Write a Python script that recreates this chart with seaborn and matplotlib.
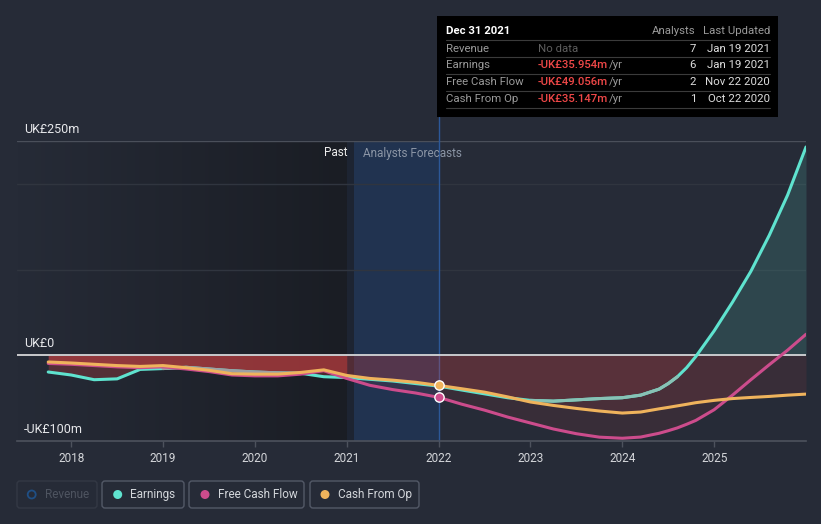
import numpy as np
import pandas as pd
import matplotlib
matplotlib.use("Agg")
import matplotlib.pyplot as plt
from matplotlib.patches import Rectangle, FancyBboxPatch, Circle
from matplotlib.lines import Line2D
from matplotlib.transforms import IdentityTransform
from matplotlib.colors import LinearSegmentedColormap
import seaborn as sns

# ---------------- data (UK£ m) ----------------
years = [2017.75, 2018.0, 2018.25, 2018.5, 2018.75, 2019.0, 2019.25, 2019.5, 2019.75,
         2020.0, 2020.25, 2020.5, 2020.75, 2021.0, 2021.25, 2021.5, 2021.75, 2022.0,
         2022.25, 2022.5, 2022.75, 2023.0, 2023.25, 2023.5, 2023.75, 2024.0,
         2024.2, 2024.4, 2024.5, 2024.6, 2024.7, 2024.8, 2025.0, 2025.2, 2025.4, 2025.6,
         2025.8, 2026.0]
earnings = [-19.5, -23, -28.5, -27.5, -16.5, -15.5, -14, -16, -18,
            -19.5, -20.5, -21, -25, -26, -28, -30, -33, -35.954,
            -40.5, -45, -49.5, -52.6, -53.5, -52, -50.5, -49.5,
            -46.5, -39.5, -33, -25, -14.5, -1.5, 28.5, 62, 98, 140, 187, 243]
free_cash_flow = [-9.5, -10.5, -12, -13.5, -14.5, -13.5, -16, -19, -23,
                  -24, -24, -22, -18, -27, -35, -40, -44, -49.056,
                  -57, -64, -72, -79, -86, -91.5, -95.5, -96.8,
                  -95.4, -91, -88, -84.7, -80.5, -76, -63.5, -46.5, -28.5, -11, 6, 24.5]
cash_from_op = [-7.8, -9, -10.5, -12, -13, -12, -14.5, -17.5, -21.5,
                -22, -22, -20, -17, -23.5, -27, -29, -31.5, -35.147,
                -39, -43, -48.5, -54.5, -58.5, -62, -65, -67.4,
                -66.2, -62.5, -60.8, -59, -57.2, -55.3, -52.6, -50.5, -49.2, -48, -46.5, -45.3]

tick_years = [2018, 2019, 2020, 2021, 2022, 2023, 2024, 2025]
tick_labels = ["2018", "2019", "2020", "2021", "2022", "2023", "2024", "2025"]
y_label_values = [250, 0, -100]
y_labels = ["UK£250m", "UK£0", "-UK£100m"]
past_end = 2021.0
forecast_start = 2021.08
tooltip_year = 2022.0

series_names = ["Earnings", "Free Cash Flow", "Cash From Op"]
series_colors = {"Earnings": "#5fe3cf", "Free Cash Flow": "#cc4c8c", "Cash From Op": "#efb35c"}

tooltip_header = ["Dec 31 2021", "Analysts", "Last Updated"]
tooltip_rows = [
    ("Revenue", "No data", "", "7", "Jan 19 2021"),
    ("Earnings", "-UK£35.954m", "/yr", "6", "Jan 19 2021"),
    ("Free Cash Flow", "-UK£49.056m", "/yr", "2", "Nov 22 2020"),
    ("Cash From Op", "-UK£35.147m", "/yr", "1", "Oct 22 2020"),
]
legend_items = ["Revenue", "Earnings", "Free Cash Flow", "Cash From Op"]

# ---------------- style ----------------
W, H = 821, 524
BG = "#262b37"
sns.set_theme(style="dark")
plt.rcParams["font.family"] = ["Roboto", "DejaVu Sans"]

fig = plt.figure(figsize=(W / 100, H / 100), dpi=100, facecolor=BG)
ax = fig.add_axes([17 / W, (H - 441) / H, 789 / W, 300 / H])
ax.set_facecolor(BG)

x0, x1 = 2017.41, 2026.0
# past gradient background
cmap = LinearSegmentedColormap.from_list("past", [BG, "#1a1d24"])
grad = np.linspace(0, 1, 256).reshape(1, -1)
ax.imshow(grad, extent=[x0, past_end, -100, 250], aspect="auto", cmap=cmap, zorder=0)
ax.axvspan(past_end, forecast_start, color="#1d2432", zorder=0, lw=0)
ax.axvspan(forecast_start, tooltip_year, color="#213350", zorder=0, lw=0)

ax.set_xlim(x0, x1)
ax.set_ylim(-100, 250)

# grid lines
ax.axhline(250, color="#4a4f5a", lw=1, zorder=1)
for v in (200, 100):
    ax.axhline(v, color="#30353f", lw=1, zorder=1)
ax.axhline(0, color="#c9cacd", lw=1.4, zorder=2.5)

df = pd.DataFrame({
    "year": years * 3,
    "value": earnings + free_cash_flow + cash_from_op,
    "series": sum([[n] * len(years) for n in series_names], []),
})

yr = np.array(years)
# fills
for name, vals in zip(series_names, [earnings, free_cash_flow, cash_from_op]):
    v = np.array(vals)
    past = yr <= past_end + 1e-9
    fut = yr >= past_end - 1e-9
    ax.fill_between(yr[past], v[past], 0, where=v[past] < 0, interpolate=True,
                    color="#e04646", alpha=0.26, lw=0, zorder=1.5)
    ax.fill_between(yr[fut], v[fut], 0, where=v[fut] < 0, interpolate=True,
                    color="#e04646", alpha=0.10, lw=0, zorder=1.5)
    if name == "Earnings":
        ax.fill_between(yr, v, 0, where=v > 0, interpolate=True,
                        color=series_colors[name], alpha=0.15, lw=0, zorder=1.5)

# lines
z = 3.0
for name in series_names:
    sns.lineplot(data=df[df.series == name], x="year", y="value", color=series_colors[name],
                 lw=2.2, ax=ax, legend=False, estimator=None, sort=False, zorder=z)
    if name == "Earnings":
        e = df[df.series == name]
        seg = e[(e.year >= 2019.0) & (e.year <= 2020.5)]
        ax.plot(seg.year, seg.value, color="#9c9fa3", lw=2.2, zorder=z + 0.05,
                solid_capstyle="round")
        seg2 = e[(e.year >= 2023.0) & (e.year <= 2024.6)]
        ax.plot(seg2.year, seg2.value, color="#88c2b5", lw=2.2, zorder=z + 0.05,
                solid_capstyle="round")
    z += 0.2

# markers at tooltip year
idx = years.index(tooltip_year)
ax.scatter([tooltip_year], [free_cash_flow[idx]], s=45, color=series_colors["Free Cash Flow"],
           edgecolor="white", lw=1, zorder=6)
ax.scatter([tooltip_year], [cash_from_op[idx]], s=45, color=series_colors["Cash From Op"],
           edgecolor="white", lw=1, zorder=6)

# vertical line at tooltip year (extends up to the tooltip)
ax.plot([tooltip_year, tooltip_year], [-100, 278], color="#2c5898", lw=1, zorder=1.2,
        clip_on=False)

# axes styling
for s in ["top", "right", "left"]:
    ax.spines[s].set_visible(False)
ax.spines["bottom"].set_color("#4d525d")
ax.spines["bottom"].set_linewidth(1.2)
ax.set_xticks(tick_years)
ax.set_xticklabels(tick_labels)
ax.set_yticks([])
ax.tick_params(axis="x", colors="#4d525d", length=4, width=1, pad=4, labelsize=8.5,
               labelcolor="#d4d6da", bottom=True)
ax.set_xlabel("")
ax.set_ylabel("")
ax.grid(False)

for val, lab in zip(y_label_values, y_labels):
    ax.annotate(lab, xy=(7 / 789, val), xycoords=("axes fraction", "data"),
                xytext=(0, 6), textcoords="offset points", va="baseline", ha="left",
                fontsize=9, color="#e6e7ea")

# Past / Analysts Forecasts labels
fig.text(347 / W, 1 - 153 / H, "Past", ha="right", va="center", fontsize=8.5, color="#eeeeee")
fig.text(363 / W, 1 - 153 / H, "Analysts Forecasts", ha="left", va="center", fontsize=8.5,
         color="#8b95a5")

# ---------------- tooltip ----------------
def fy(y):
    return 1 - y / H

def fx(x):
    return x / W

fig.add_artist(Rectangle((fx(437), fy(117)), fx(778) - fx(437), fy(16) - fy(117),
                         transform=fig.transFigure, facecolor="black", edgecolor="none",
                         zorder=10))
for ys in (40, 57, 74, 91, 108):
    fig.add_artist(Line2D([fx(446), fx(770)], [fy(ys), fy(ys)], transform=fig.transFigure,
                          color="#3b3b3b", lw=0.8, zorder=11))
hy = 31
fig.text(fx(446), fy(hy), tooltip_header[0], ha="left", va="center", fontsize=8.2,
         color="white", fontweight="bold", zorder=12)
fig.text(fx(695), fy(hy), tooltip_header[1], ha="right", va="center", fontsize=8.2,
         color="#9a9a9a", zorder=12)
fig.text(fx(770), fy(hy), tooltip_header[2], ha="right", va="center", fontsize=8.2,
         color="#9a9a9a", zorder=12)
for (lab, val, unit, n, date), ry in zip(tooltip_rows, (48.5, 65.5, 82, 99)):
    fig.text(fx(446), fy(ry), lab, ha="left", va="center", fontsize=8.2, color="#9a9a9a", zorder=12)
    if unit:
        fig.text(fx(538), fy(ry), val, ha="left", va="center", fontsize=8.2, color="#f04848",
                 fontweight="medium", zorder=12)
        fig.text(fx(609), fy(ry), unit, ha="left", va="center", fontsize=8.2, color="#9a9a9a",
                 zorder=12)
    else:
        fig.text(fx(538), fy(ry), val, ha="left", va="center", fontsize=8.2, color="#5e5e5e",
                 zorder=12)
    fig.text(fx(696), fy(ry), n, ha="right", va="center", fontsize=8.2, color="#dddddd", zorder=12)
    fig.text(fx(770), fy(ry), date, ha="right", va="center", fontsize=8.2, color="#dddddd",
             zorder=12)

# ---------------- legend ----------------
boxes = [(17, 97), (102, 184), (189, 304), (310, 419)]
circ_x = [31.7, 117.7, 205, 325]
text_x = [44.5, 130, 217.5, 337.5]
ID = IdentityTransform()
for i, (name, (bx0, bx1)) in enumerate(zip(legend_items, boxes)):
    dim = name == "Revenue"
    fig.add_artist(FancyBboxPatch((bx0, H - 508), bx1 - bx0, 27,
                                  boxstyle="round,pad=0,rounding_size=3", transform=ID,
                                  facecolor=BG, edgecolor="#343945" if dim else "#535967",
                                  lw=1, zorder=5))
    if dim:
        fig.add_artist(Circle((circ_x[i], H - 494.5), 4, transform=ID, facecolor="none",
                              edgecolor="#1f4f85", lw=1.3, zorder=6))
    else:
        fig.add_artist(Circle((circ_x[i], H - 494.5), 4.5, transform=ID,
                              facecolor=series_colors[name], edgecolor="none", zorder=6))
    fig.text(fx(text_x[i]), fy(494.5), name, ha="left", va="center", fontsize=8.5,
             color="#4e5460" if dim else "#d3d6db", zorder=6)

fig.savefig("out.png", dpi=100, facecolor=BG)
